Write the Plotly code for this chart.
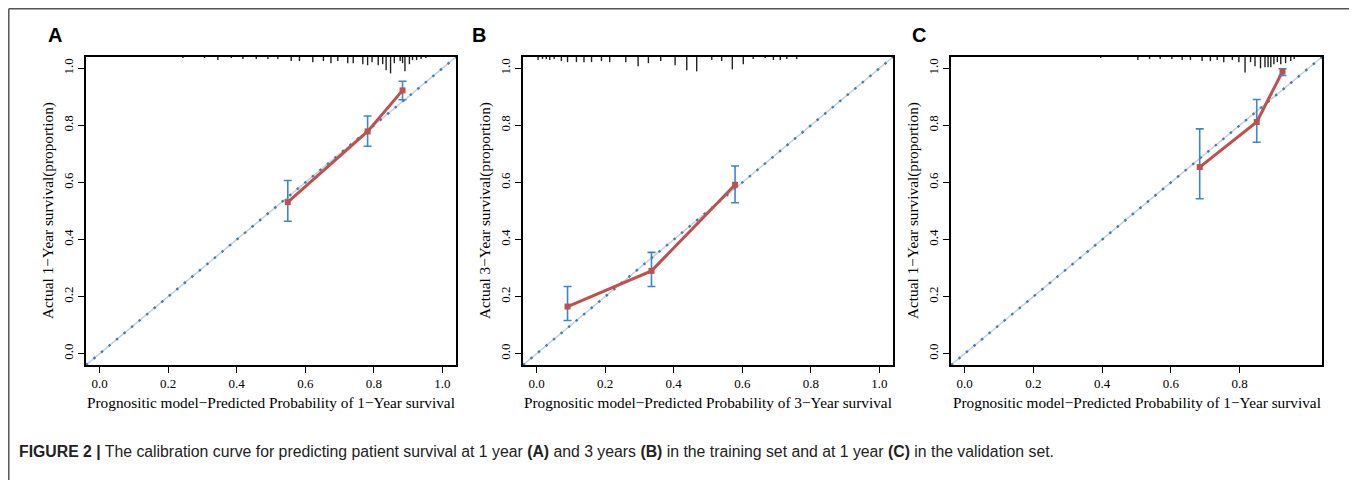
import plotly.graph_objects as go

# ---------------- data ----------------
panel_letters = ["A", "B", "C"]
x_titles = [
    "Prognositic model\u2212Predicted Probability of 1\u2212Year survival",
    "Prognositic model\u2212Predicted Probability of 3\u2212Year survival",
    "Prognositic model\u2212Predicted Probability of 1\u2212Year survival",
]
y_titles = [
    "Actual 1\u2212Year survival(proportion)",
    "Actual 3\u2212Year survival(proportion)",
    "Actual 1\u2212Year survival(proportion)",
]

a_pred = [0.549, 0.782, 0.884]
a_obs = [0.531, 0.779, 0.923]
a_lo = [0.464, 0.727, 0.890]
a_hi = [0.607, 0.833, 0.955]

b_pred = [0.090, 0.335, 0.579]
b_obs = [0.165, 0.290, 0.592]
b_lo = [0.116, 0.235, 0.529]
b_hi = [0.235, 0.355, 0.658]

c_pred = [0.684, 0.850, 0.925]
c_obs = [0.654, 0.812, 0.989]
c_lo = [0.543, 0.741, 0.975]
c_hi = [0.788, 0.891, 0.999]

# rug (distribution of predicted risk): positions and relative frequencies
rug_a_x = [0.243, 0.306, 0.345, 0.384, 0.418, 0.457, 0.491, 0.520, 0.559, 0.583,
           0.622, 0.653, 0.675, 0.695, 0.724, 0.740, 0.768, 0.782, 0.795, 0.813,
           0.826, 0.836, 0.849, 0.860, 0.877, 0.884, 0.891, 0.904, 0.913, 0.925,
           0.938, 0.952]
rug_a_f = [1, 1, 3, 1, 2, 2, 2, 2, 4, 4,
           5, 4, 6, 4, 6, 6, 7, 8, 5, 8,
           7, 13, 16, 6, 4, 6, 14, 7, 3, 3,
           2, 1]

rug_b_x = [0.004, 0.017, 0.028, 0.038, 0.051, 0.072, 0.090, 0.116, 0.138, 0.160,
           0.189, 0.213, 0.260, 0.296, 0.326, 0.362, 0.404, 0.438, 0.467, 0.511,
           0.540, 0.571, 0.603, 0.632, 0.667, 0.691, 0.711, 0.730, 0.759]
rug_b_f = [3, 2, 2, 3, 2, 4, 5, 5, 5, 5,
           4, 5, 5, 9, 6, 4, 8, 13, 14, 3,
           4, 12, 7, 2, 1, 3, 3, 2, 2]

rug_c_x = [0.396, 0.504, 0.538, 0.569, 0.603, 0.633, 0.657, 0.691, 0.715, 0.735,
           0.754, 0.779, 0.798, 0.816, 0.832, 0.845, 0.861, 0.874, 0.883, 0.891,
           0.900, 0.910, 0.920, 0.934, 0.949, 0.959]
rug_c_f = [1, 3, 2, 2, 2, 3, 3, 4, 4, 3,
           5, 3, 5, 15, 5, 9, 11, 10, 10, 10,
           7, 5, 7, 6, 4, 2]

x_tick_vals = [[0, 0.2, 0.4, 0.6, 0.8, 1.0], [0, 0.2, 0.4, 0.6, 0.8, 1.0], [0, 0.2, 0.4, 0.6, 0.8]]
y_tick_vals = [0, 0.2, 0.4, 0.6, 0.8, 1.0]

panels = [
    (a_pred, a_obs, a_lo, a_hi, rug_a_x, rug_a_f),
    (b_pred, b_obs, b_lo, b_hi, rug_b_x, rug_b_f),
    (c_pred, c_obs, c_lo, c_hi, rug_c_x, rug_c_f),
]

# ---------------- styling / layout ----------------
W, H = 1357, 480
OFF = 8  # page body margin offset
AX_RANGE = [-0.04, 1.04]
RUG_SCALE = 0.0036
plot_px = [(86, 456), (523, 893), (951, 1322)]
top_px, bot_px = 57, 365
letter_px = [55, 479, 919]
ytitle_px = [48, 485, 913]


def px_x(p):
    return (p - OFF) / W


def px_y(p):
    return 1 - (p - OFF) / H


RED = "#c0504d"
BLUE = "#3b87c9"
SERIF = "Liberation Serif"

fig = go.Figure()
layout = dict(
    width=W, height=H, autosize=False,
    margin=dict(l=0, r=0, t=0, b=0),
    paper_bgcolor="white", plot_bgcolor="white",
    showlegend=False,
)
annotations = []
shapes = []

for i, (pred, obs, lo, hi, rx, rf) in enumerate(panels):
    n = "" if i == 0 else str(i + 1)
    xa, ya = "x" + n, "y" + n
    x0, x1 = plot_px[i]
    common = dict(range=AX_RANGE, showgrid=False, zeroline=False, showline=True,
                  mirror=True, linecolor="black", linewidth=1.5, ticks="outside",
                  ticklen=6, tickwidth=1, tickcolor="black",
                  tickfont=dict(family=SERIF, size=13, color="black"))
    layout["xaxis" + n] = dict(common, domain=[px_x(x0), px_x(x1)], anchor=ya,
                               tickvals=x_tick_vals[i],
                               ticktext=[f"{v:.1f}" for v in x_tick_vals[i]])
    layout["yaxis" + n] = dict(common, domain=[px_y(bot_px), px_y(top_px)], anchor=xa,
                               tickvals=y_tick_vals, tickangle=-90,
                               ticktext=[f"{v:.1f}" for v in y_tick_vals])

    # ideal diagonal: grey line + blue dots
    fig.add_trace(go.Scatter(x=AX_RANGE, y=AX_RANGE, mode="lines", xaxis=xa, yaxis=ya,
                             line=dict(color="#cfcfcf", width=1.5), hoverinfo="skip"))
    fig.add_trace(go.Scatter(x=AX_RANGE, y=AX_RANGE, mode="lines", xaxis=xa, yaxis=ya,
                             line=dict(color="#2f7fc4", width=2.4, dash="2.4px,7.4px"),
                             hoverinfo="skip"))

    # rug at top
    rxs, rys = [], []
    for xv, fv in zip(rx, rf):
        rxs += [xv, xv, None]
        rys += [AX_RANGE[1], AX_RANGE[1] - fv * RUG_SCALE, None]
    fig.add_trace(go.Scatter(x=rxs, y=rys, mode="lines", xaxis=xa, yaxis=ya,
                             line=dict(color="#222222", width=1.4), hoverinfo="skip"))

    # calibration line
    fig.add_trace(go.Scatter(x=pred, y=obs, mode="lines", xaxis=xa, yaxis=ya,
                             line=dict(color=RED, width=3)))
    # points with error bars
    fig.add_trace(go.Scatter(
        x=pred, y=obs, mode="markers", xaxis=xa, yaxis=ya,
        marker=dict(symbol="square", size=6, color=RED),
        error_y=dict(type="data", symmetric=False,
                     array=[h - o for h, o in zip(hi, obs)],
                     arrayminus=[o - l for o, l in zip(obs, lo)],
                     color=BLUE, thickness=1.6, width=4)))

    # panel letter
    annotations.append(dict(text=f"<b>{panel_letters[i]}</b>", x=px_x(letter_px[i]), y=px_y(35),
                            xref="paper", yref="paper", showarrow=False,
                            font=dict(family="Liberation Sans", size=20, color="black"),
                            xanchor="center", yanchor="middle"))
    # x title
    annotations.append(dict(text=x_titles[i], x=px_x((x0 + x1) / 2), y=px_y(402),
                            xref="paper", yref="paper", showarrow=False,
                            font=dict(family=SERIF, size=15.3, color="black"),
                            xanchor="center", yanchor="middle"))
    # y title
    annotations.append(dict(text=y_titles[i], x=px_x(ytitle_px[i]), y=px_y((top_px + bot_px) / 2),
                            xref="paper", yref="paper", showarrow=False, textangle=-90,
                            font=dict(family=SERIF, size=15.3, color="black"),
                            xanchor="center", yanchor="middle"))

# caption
annotations.append(dict(
    text="<b>FIGURE 2 |</b> The calibration curve for predicting patient survival at 1 year <b>(A)</b> "
         "and 3 years <b>(B)</b> in the training set and at 1 year <b>(C)</b> in the validation set.",
    x=px_x(17), y=px_y(451), xref="paper", yref="paper", showarrow=False,
    font=dict(family="Liberation Sans", size=15.8, color="#222222"),
    xanchor="left", yanchor="middle"))

# outer frame (kept just inside the visible figure area)
frame_line = dict(color="#555555", width=1.5)
fl, ft, fr = px_x(OFF + 0.8), px_y(OFF + 0.8), px_x(1350)
shapes.append(dict(type="line", xref="paper", yref="paper", x0=fl, x1=fr, y0=ft, y1=ft, line=frame_line))
shapes.append(dict(type="line", xref="paper", yref="paper", x0=fl, x1=fl, y0=ft, y1=-0.1, line=frame_line))
shapes.append(dict(type="line", xref="paper", yref="paper", x0=fr, x1=fr, y0=ft, y1=-0.1, line=frame_line))

layout["annotations"] = annotations
layout["shapes"] = shapes
fig.update_layout(**layout)
fig.write_html("out.html")
